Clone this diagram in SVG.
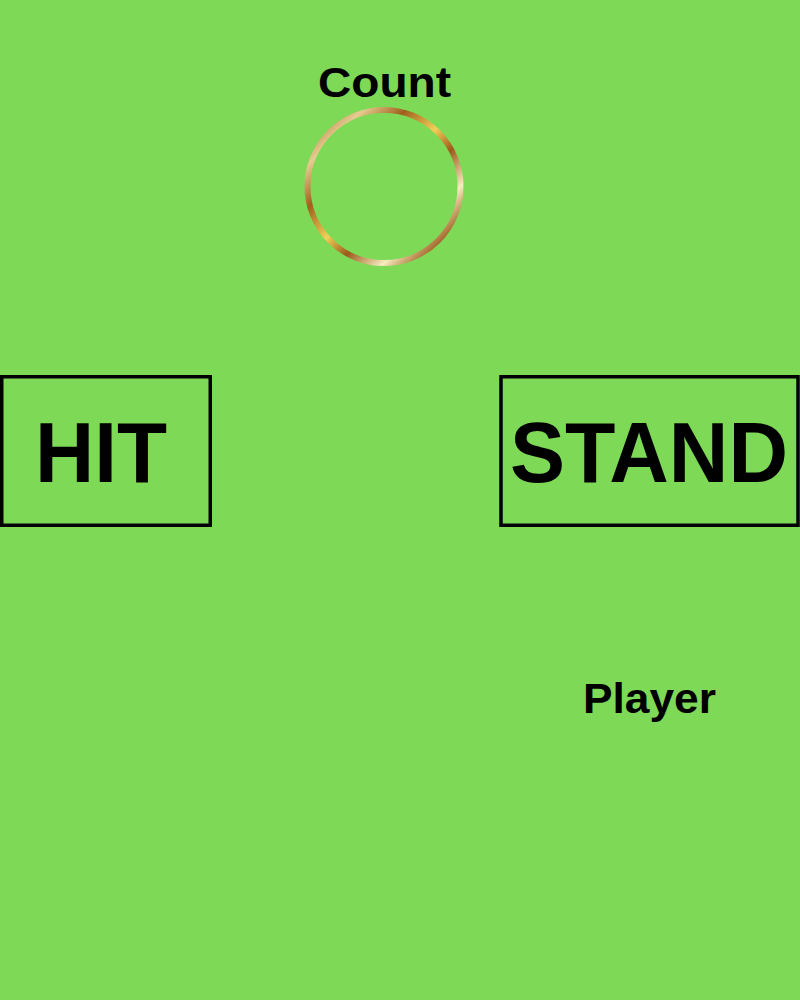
<svg xmlns="http://www.w3.org/2000/svg" width="800" height="1000" viewBox="0 0 800 1000">
<style>
.lbl{font-family:"Liberation Sans","Noto Sans",sans-serif;font-weight:bold;fill:#000;}
.box{fill:none;stroke:#000;stroke-width:3.5;}
</style>
<defs>
<linearGradient id="gold" x1="0" y1="0" x2="1" y2="1">
<stop offset="0" stop-color="#9c5a1a"/>
<stop offset="0.18" stop-color="#e6cc90"/>
<stop offset="0.32" stop-color="#a0601c"/>
<stop offset="0.48" stop-color="#f0d058"/>
<stop offset="0.6" stop-color="#9c5a1a"/>
<stop offset="0.75" stop-color="#f6ecc0"/>
<stop offset="0.88" stop-color="#9c5a1a"/>
<stop offset="1" stop-color="#c88a30"/>
</linearGradient>
</defs>
<rect x="0" y="0" width="800" height="1000" fill="#7ed957"/>
<g id="count">
<text class="lbl" x="384.5" y="96.5" font-size="43" text-anchor="middle" textLength="133" lengthAdjust="spacingAndGlyphs">Count</text>
<circle cx="384" cy="186.5" r="76.5" fill="none" stroke="url(#gold)" stroke-width="6"/>
</g>
<g id="hit">
<rect class="box" x="1.75" y="376.75" width="208.5" height="148.5"/>
<text class="lbl" x="101" y="481.5" font-size="85" text-anchor="middle" textLength="132" lengthAdjust="spacingAndGlyphs">HIT</text>
</g>
<g id="stand">
<rect class="box" x="501" y="376.75" width="297" height="148.5"/>
<text class="lbl" x="649" y="481.5" font-size="85" text-anchor="middle" textLength="278" lengthAdjust="spacingAndGlyphs">STAND</text>
</g>
<g id="player">
<text class="lbl" x="649.5" y="713" font-size="43" text-anchor="middle" textLength="133" lengthAdjust="spacingAndGlyphs">Player</text>
</g>
<g id="connectors"></g>
</svg>
